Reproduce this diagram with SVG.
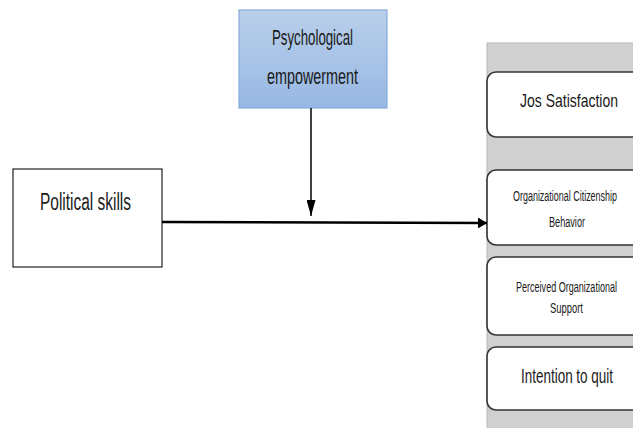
<svg xmlns="http://www.w3.org/2000/svg" width="633" height="428" viewBox="0 0 633 428">
<defs>
<linearGradient id="blueGrad" x1="0" y1="0" x2="0" y2="1">
<stop offset="0" stop-color="#b9cfeb"/>
<stop offset="1" stop-color="#97b8e3"/>
</linearGradient>
<marker id="arrowV" viewBox="0 0 10 10" refX="10" refY="5" markerWidth="16" markerHeight="9" markerUnits="userSpaceOnUse" orient="auto" preserveAspectRatio="none">
<path d="M0,0 L10,5 L0,10 z" fill="#000"/>
</marker>
<marker id="arrowH" viewBox="0 0 10 10" refX="10" refY="5" markerWidth="9" markerHeight="11" markerUnits="userSpaceOnUse" orient="auto" preserveAspectRatio="none">
<path d="M0,0 L10,5 L0,10 z" fill="#000"/>
</marker>
</defs>
<style>
text { font-family: "Liberation Sans", Arial, sans-serif; fill: #1a1a1a; }
.box { fill: #ffffff; stroke: #222; stroke-width: 1.2; }
.rbox { fill: #ffffff; stroke: #333; stroke-width: 1.6; }
.big { font-size: 22px; }
.mid { font-size: 19px; }
.small { font-size: 14px; }
</style>
<rect x="0" y="0" width="633" height="428" fill="#ffffff"/>

<g id="panel">
<rect x="487" y="43" width="160" height="395" fill="#d0d0d0" stroke="#b8b8b8" stroke-width="1"/>
</g>

<g id="psychological-empowerment">
<rect x="239" y="10" width="148" height="98" fill="url(#blueGrad)" stroke="#86aad9" stroke-width="1.2"/>
<text class="big" x="272" y="45" textLength="81" lengthAdjust="spacingAndGlyphs">Psychological</text>
<text class="big" x="267" y="84" textLength="91" lengthAdjust="spacingAndGlyphs">empowerment</text>
</g>

<g id="political-skills">
<rect class="box" x="13" y="169" width="149" height="98"/>
<text class="big" x="40" y="210" textLength="91" lengthAdjust="spacingAndGlyphs" style="font-size:23px">Political skills</text>
</g>

<g id="job-satisfaction">
<rect class="rbox" x="487" y="72" width="170" height="65" rx="9" ry="9"/>
<text class="mid" x="520" y="107" textLength="98" lengthAdjust="spacingAndGlyphs">Jos Satisfaction</text>
</g>

<g id="ocb">
<rect class="rbox" x="487" y="170" width="170" height="75" rx="9" ry="9"/>
<text class="small" x="513" y="201" textLength="104" lengthAdjust="spacingAndGlyphs">Organizational Citizenship</text>
<text class="small" x="549" y="227" textLength="36" lengthAdjust="spacingAndGlyphs">Behavior</text>
</g>

<g id="pos">
<rect class="rbox" x="487" y="257" width="170" height="78" rx="9" ry="9"/>
<text class="small" x="516" y="292" textLength="101" lengthAdjust="spacingAndGlyphs">Perceived Organizational</text>
<text class="small" x="550" y="313" textLength="33" lengthAdjust="spacingAndGlyphs">Support</text>
</g>

<g id="intention-to-quit">
<rect class="rbox" x="487" y="347" width="170" height="63" rx="9" ry="9"/>
<text class="mid" x="521" y="383" textLength="92" lengthAdjust="spacingAndGlyphs" style="font-size:20px">Intention to quit</text>
</g>

<g id="connectors" fill="none" stroke="#000">
<line x1="311" y1="108" x2="311" y2="216" stroke-width="1.5" marker-end="url(#arrowV)"/>
<line x1="162" y1="222" x2="487" y2="223" stroke-width="2.5" marker-end="url(#arrowH)"/>
</g>
</svg>
